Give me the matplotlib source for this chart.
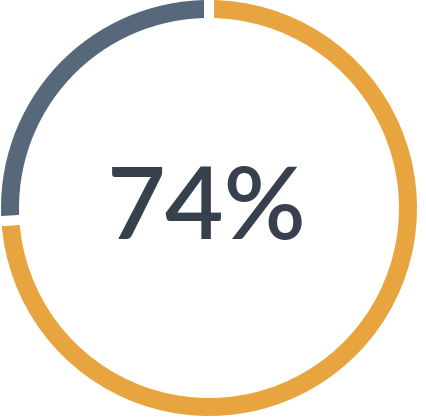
import matplotlib
matplotlib.use("Agg")
import matplotlib.pyplot as plt

labels = ["Yes", "No"]
values = [74, 26]
colors = ["#E8A43E", "#566879"]
center_label = "74%"

W, H = 427, 417
fig = plt.figure(figsize=(W / 100, H / 100), dpi=100)
ax = fig.add_axes([0, 0, 1, 1])

gap_px = 10
ring_w = 18
outer_r = 208
cx, cy = 209, H - 208

ax.pie(values, colors=colors, startangle=90, counterclock=False,
       center=(cx, cy), radius=outer_r + gap_px / 2, frame=True,
       wedgeprops=dict(width=ring_w + gap_px, edgecolor="white",
                       linewidth=gap_px * 0.72))

ax.text(207, H - 239, center_label, ha="center", va="baseline",
        fontsize=73, color="#37414E", family=["Lato", "DejaVu Sans"],
        fontweight="semibold")

ax.set_xlim(0, W)
ax.set_ylim(0, H)
ax.set_aspect("equal")
ax.axis("off")
fig.savefig("out.png", dpi=100, facecolor="white")
